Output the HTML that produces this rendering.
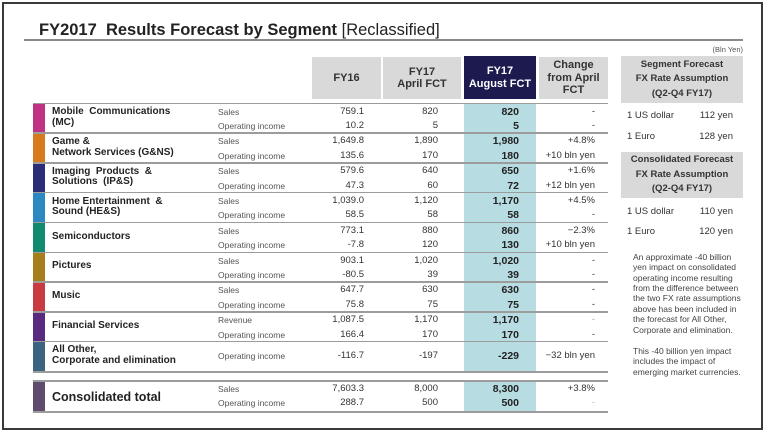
<!DOCTYPE html>
<html><head><meta charset="utf-8">
<style>
html,body{margin:0;padding:0;background:#fff;}
#w{position:relative;width:768px;height:435px;overflow:hidden;background:#fff;font-family:"Liberation Sans",Arial,sans-serif;}
.a{position:absolute;white-space:nowrap;}
.d{font-size:9.5px;color:#333;line-height:12px;text-align:right;}
.b{font-weight:bold;font-size:10.5px;color:#222;}
.c1{right:404px}.c2{right:330px}.c3{right:249px}.c4{right:173px}
.lab{left:218px;font-size:8.5px;color:#555;line-height:12px;}
.nm{left:52px;font-size:10px;font-weight:bold;color:#222;line-height:10.5px;}
.ln{position:absolute;left:33px;width:575px;height:1.5px;background:#9c9c9c;}
.bar{position:absolute;left:33px;width:12px;}
.hd{position:absolute;background:#d9d9d9;color:#333;font-weight:bold;font-size:11px;text-align:center;display:flex;align-items:center;justify-content:center;line-height:12.5px;}
.rp{position:absolute;left:621px;width:122px;background:#d9d9d9;color:#333;font-weight:bold;font-size:9.5px;text-align:center;line-height:14.5px;display:flex;align-items:center;justify-content:center;}
.rv{font-size:9.5px;color:#333;line-height:12px;}
.p{left:633px;font-size:8.5px;color:#444;line-height:10.4px;}
</style></head><body>
<div id="w">
<!-- outer border -->
<div class="a" style="left:2px;top:2px;width:757px;height:424px;border:2px solid #3a3a3a;"></div>

<!-- title -->
<div class="a" style="left:39px;top:19.5px;font-size:16.5px;line-height:20px;color:#222;"><b>FY2017&nbsp; Results Forecast by Segment</b> [Reclassified]</div>
<div class="a" style="left:24px;top:39px;width:719px;height:1.5px;background:#8a8a8a;"></div>
<div class="a" style="right:25px;top:45px;font-size:7.5px;color:#555;line-height:10px;">(Bln Yen)</div>

<!-- header cells -->
<div class="hd" style="left:312px;top:57px;width:69px;height:42px;">FY16</div>
<div class="hd" style="left:383px;top:57px;width:78px;height:42px;">FY17<br>April FCT</div>
<div class="hd" style="left:464px;top:56px;width:72px;height:43px;background:#1c1a4f;color:#fff;">FY17<br>August FCT</div>
<div class="hd" style="left:539px;top:57px;width:69px;height:42px;">Change<br>from April<br>FCT</div>

<!-- teal column -->
<div class="a" style="left:464px;top:103px;width:72px;height:268px;background:#b7dce2;"></div>
<div class="a" style="left:464px;top:381px;width:72px;height:30px;background:#b7dce2;"></div>

<!-- bars -->
<div class="bar" style="top:103px;height:30px;background:#c03382;"></div>
<div class="bar" style="top:133px;height:30px;background:#d77a1c;"></div>
<div class="bar" style="top:163px;height:30px;background:#2b2d78;"></div>
<div class="bar" style="top:192px;height:30px;background:#2b88c0;"></div>
<div class="bar" style="top:222px;height:30px;background:#118a6f;"></div>
<div class="bar" style="top:252px;height:30px;background:#a67f1c;"></div>
<div class="bar" style="top:282px;height:30px;background:#c93b40;"></div>
<div class="bar" style="top:312px;height:30px;background:#5a2a80;"></div>
<div class="bar" style="top:341px;height:30px;background:#3c6480;"></div>
<div class="bar" style="top:381px;height:30px;background:#5f4b6b;"></div>

<!-- row lines -->
<div class="ln" style="top:102.5px;"></div>
<div class="ln" style="top:132.3px;"></div>
<div class="ln" style="top:162.1px;"></div>
<div class="ln" style="top:191.9px;"></div>
<div class="ln" style="top:221.7px;"></div>
<div class="ln" style="top:251.5px;"></div>
<div class="ln" style="top:281.3px;"></div>
<div class="ln" style="top:311.1px;"></div>
<div class="ln" style="top:340.9px;"></div>
<div class="ln" style="top:370.5px;height:2.5px;"></div>
<div class="ln" style="top:380px;height:2px;"></div>
<div class="ln" style="top:410.5px;height:2px;"></div>

<!-- segment names -->
<div class="a nm" style="top:107.3px;">Mobile&nbsp; Communications<br>(MC)</div>
<div class="a nm" style="top:137px;">Game &amp;<br>Network Services (G&amp;NS)</div>
<div class="a nm" style="top:166.8px;">Imaging&nbsp; Products&nbsp; &amp;<br>Solutions&nbsp; (IP&amp;S)</div>
<div class="a nm" style="top:196.6px;">Home Entertainment&nbsp; &amp;<br>Sound (HE&amp;S)</div>
<div class="a nm" style="top:231.5px;">Semiconductors</div>
<div class="a nm" style="top:261.3px;">Pictures</div>
<div class="a nm" style="top:291.1px;">Music</div>
<div class="a nm" style="top:320.9px;">Financial Services</div>
<div class="a nm" style="top:345px;">All Other,<br>Corporate and elimination</div>
<div class="a" style="left:52px;top:389px;font-size:12.5px;font-weight:bold;color:#222;line-height:16px;">Consolidated total</div>

<!-- Row 1 -->
<div class="a lab" style="top:105.5px;">Sales</div>
<div class="a lab" style="top:120px;">Operating income</div>
<div class="a d c1" style="top:105.5px;">759.1</div><div class="a d c2" style="top:105.5px;">820</div><div class="a d c3 b" style="top:105.5px;">820</div><div class="a d c4" style="top:105.5px;">-</div>
<div class="a d c1" style="top:120px;">10.2</div><div class="a d c2" style="top:120px;">5</div><div class="a d c3 b" style="top:120px;">5</div><div class="a d c4" style="top:120px;">-</div>

<!-- Row 2 -->
<div class="a lab" style="top:135.3px;">Sales</div>
<div class="a lab" style="top:149.8px;">Operating income</div>
<div class="a d c1" style="top:135.3px;">1,649.8</div><div class="a d c2" style="top:135.3px;">1,890</div><div class="a d c3 b" style="top:135.3px;">1,980</div><div class="a d c4" style="top:135.3px;">+4.8%</div>
<div class="a d c1" style="top:149.8px;">135.6</div><div class="a d c2" style="top:149.8px;">170</div><div class="a d c3 b" style="top:149.8px;">180</div><div class="a d c4" style="top:149.8px;">+10 bln yen</div>

<!-- Row 3 -->
<div class="a lab" style="top:165.1px;">Sales</div>
<div class="a lab" style="top:179.6px;">Operating income</div>
<div class="a d c1" style="top:165.1px;">579.6</div><div class="a d c2" style="top:165.1px;">640</div><div class="a d c3 b" style="top:165.1px;">650</div><div class="a d c4" style="top:165.1px;">+1.6%</div>
<div class="a d c1" style="top:179.6px;">47.3</div><div class="a d c2" style="top:179.6px;">60</div><div class="a d c3 b" style="top:179.6px;">72</div><div class="a d c4" style="top:179.6px;">+12 bln yen</div>

<!-- Row 4 -->
<div class="a lab" style="top:194.9px;">Sales</div>
<div class="a lab" style="top:209.4px;">Operating income</div>
<div class="a d c1" style="top:194.9px;">1,039.0</div><div class="a d c2" style="top:194.9px;">1,120</div><div class="a d c3 b" style="top:194.9px;">1,170</div><div class="a d c4" style="top:194.9px;">+4.5%</div>
<div class="a d c1" style="top:209.4px;">58.5</div><div class="a d c2" style="top:209.4px;">58</div><div class="a d c3 b" style="top:209.4px;">58</div><div class="a d c4" style="top:209.4px;">-</div>

<!-- Row 5 -->
<div class="a lab" style="top:224.7px;">Sales</div>
<div class="a lab" style="top:239.2px;">Operating income</div>
<div class="a d c1" style="top:224.7px;">773.1</div><div class="a d c2" style="top:224.7px;">880</div><div class="a d c3 b" style="top:224.7px;">860</div><div class="a d c4" style="top:224.7px;">−2.3%</div>
<div class="a d c1" style="top:239.2px;">-7.8</div><div class="a d c2" style="top:239.2px;">120</div><div class="a d c3 b" style="top:239.2px;">130</div><div class="a d c4" style="top:239.2px;">+10 bln yen</div>

<!-- Row 6 -->
<div class="a lab" style="top:254.5px;">Sales</div>
<div class="a lab" style="top:269px;">Operating income</div>
<div class="a d c1" style="top:254.5px;">903.1</div><div class="a d c2" style="top:254.5px;">1,020</div><div class="a d c3 b" style="top:254.5px;">1,020</div><div class="a d c4" style="top:254.5px;">-</div>
<div class="a d c1" style="top:269px;">-80.5</div><div class="a d c2" style="top:269px;">39</div><div class="a d c3 b" style="top:269px;">39</div><div class="a d c4" style="top:269px;">-</div>

<!-- Row 7 -->
<div class="a lab" style="top:284.3px;">Sales</div>
<div class="a lab" style="top:298.8px;">Operating income</div>
<div class="a d c1" style="top:284.3px;">647.7</div><div class="a d c2" style="top:284.3px;">630</div><div class="a d c3 b" style="top:284.3px;">630</div><div class="a d c4" style="top:284.3px;">-</div>
<div class="a d c1" style="top:298.8px;">75.8</div><div class="a d c2" style="top:298.8px;">75</div><div class="a d c3 b" style="top:298.8px;">75</div><div class="a d c4" style="top:298.8px;">-</div>

<!-- Row 8 -->
<div class="a lab" style="top:314.1px;">Revenue</div>
<div class="a lab" style="top:328.6px;">Operating income</div>
<div class="a d c1" style="top:314.1px;">1,087.5</div><div class="a d c2" style="top:314.1px;">1,170</div><div class="a d c3 b" style="top:314.1px;">1,170</div><div class="a d c4" style="top:314.1px;color:#aaa;">-</div>
<div class="a d c1" style="top:328.6px;">166.4</div><div class="a d c2" style="top:328.6px;">170</div><div class="a d c3 b" style="top:328.6px;">170</div><div class="a d c4" style="top:328.6px;">-</div>

<!-- Row 9 -->
<div class="a lab" style="top:350.3px;">Operating income</div>
<div class="a d c1" style="top:350.3px;">-116.7</div><div class="a d c2" style="top:350.3px;">-197</div><div class="a d c3 b" style="top:350.3px;">-229</div><div class="a d c4" style="top:350.3px;">−32 bln yen</div>

<!-- Consolidated -->
<div class="a lab" style="top:383px;">Sales</div>
<div class="a lab" style="top:397px;">Operating income</div>
<div class="a d c1" style="top:383px;">7,603.3</div><div class="a d c2" style="top:383px;">8,000</div><div class="a d c3 b" style="top:383px;">8,300</div><div class="a d c4" style="top:383px;">+3.8%</div>
<div class="a d c1" style="top:397px;">288.7</div><div class="a d c2" style="top:397px;">500</div><div class="a d c3 b" style="top:397px;">500</div><div class="a d c4" style="top:397px;color:#bbb;">-</div>

<!-- right panel -->
<div class="rp" style="top:56px;height:47px;">Segment Forecast<br>FX Rate Assumption<br>(Q2-Q4 FY17)</div>
<div class="a rv" style="left:627px;top:110px;">1 US dollar</div>
<div class="a rv" style="right:35px;top:110px;">112 yen</div>
<div class="a rv" style="left:627px;top:131px;">1 Euro</div>
<div class="a rv" style="right:35px;top:131px;">128 yen</div>

<div class="rp" style="top:152px;height:46px;">Consolidated Forecast<br>FX Rate Assumption<br>(Q2-Q4 FY17)</div>
<div class="a rv" style="left:627px;top:206px;">1 US dollar</div>
<div class="a rv" style="right:35px;top:206px;">110 yen</div>
<div class="a rv" style="left:627px;top:226px;">1 Euro</div>
<div class="a rv" style="right:35px;top:226px;">120 yen</div>

<div class="a p" style="top:251.8px;">An approximate -40 billion<br>yen impact on consolidated<br>operating income resulting<br>from the difference between<br>the two FX rate assumptions<br>above has been included in<br>the forecast for All Other,<br>Corporate and elimination.</div>
<div class="a p" style="top:345.8px;">This -40 billion yen impact<br>includes the impact of<br>emerging market currencies.</div>
</div>
</body></html>
